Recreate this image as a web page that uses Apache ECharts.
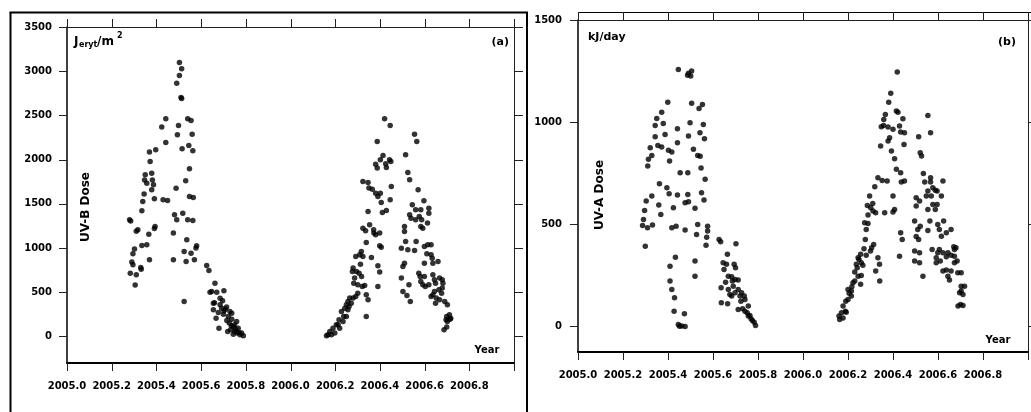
<!DOCTYPE html>
<html>
<head>
<meta charset="utf-8">
<script src="https://cdn.jsdelivr.net/npm/echarts@6/dist/echarts.min.js"></script>
<style>
html,body{margin:0;padding:0;background:#fff;}
#c{width:1031px;height:412px;}
</style>
</head>
<body>
<div id="c"></div>
<script>
// ---- tick values / labels ----
const yearMin = 2005.0, yearMax = 2007.0, yearStep = 0.2;
const yearTicks = [2005.0, 2005.2, 2005.4, 2005.6, 2005.8, 2006.0, 2006.2, 2006.4, 2006.6, 2006.8, 2007.0];
const uvbTicks = [0, 500, 1000, 1500, 2000, 2500, 3000, 3500];
const uvaTicks = [0, 500, 1000, 1500];

// ---- panel (a): UV-B dose (J_eryt/m2) ----
const uvbYear = [
2005.503,2005.513,2005.503,2005.491,2005.510,2005.513,2005.442,2005.424,2005.499,2005.540,
2005.555,2005.494,2005.560,2005.442,2005.397,2005.369,2005.515,2005.545,2005.563,2005.372,
2005.548,2005.350,2005.379,2005.347,2005.382,2005.357,2005.387,2005.379,2005.531,2005.488,
2005.345,2005.391,2005.430,2005.450,2005.548,2005.565,2005.339,2005.394,2005.391,2005.280,
2005.285,2005.317,2005.310,2005.335,2005.481,2005.491,2005.518,2005.540,2005.563,2005.476,
2005.366,2005.357,2005.335,2005.302,2005.295,2005.536,2005.580,2005.577,2005.524,2005.555,
2005.369,2005.476,2005.533,2005.570,2005.290,2005.295,2005.330,2005.332,2005.283,2005.310,
2005.305,2005.524,
2005.625,2005.635,2005.662,2005.647,2005.670,2005.702,2005.685,2005.696,2005.655,2005.677,
2005.667,2005.680,2005.714,2005.729,2005.722,2005.737,2005.726,2005.744,2005.719,2005.750,
2005.762,2005.774,2005.789,2005.744,2005.692,2005.702,2005.708,2005.655,2005.685,2005.737,
2005.759,2005.750,2005.766,2005.781,2005.732,2005.640,2005.660,2005.700,2005.715,2005.735,
2005.755,2005.770,
2006.421,2006.446,2006.388,2006.414,2006.381,2006.388,2006.426,2006.443,2006.402,2006.449,
2006.429,2006.324,2006.347,2006.351,2006.366,2006.381,2006.402,2006.391,2006.406,2006.446,
2006.451,2006.411,2006.429,2006.347,2006.324,2006.336,2006.372,2006.373,2006.381,2006.399,
2006.354,2006.399,2006.406,2006.339,2006.317,2006.310,2006.292,2006.324,2006.362,2006.313,
2006.280,2006.277,2006.295,2006.307,2006.318,2006.287,2006.283,2006.321,2006.332,2006.301,
2006.292,2006.339,2006.347,2006.339,2006.391,2006.399,2006.391,2006.265,2006.257,2006.250,
2006.243,2006.257,2006.228,2006.238,2006.250,2006.217,2006.205,2006.190,2006.176,2006.168,
2006.183,2006.198,2006.220,2006.235,2006.213,2006.161,2006.272,2006.262,2006.280,2006.301,
2006.515,2006.555,2006.565,2006.525,2006.533,2006.571,2006.597,2006.545,2006.560,2006.533,
2006.510,2006.510,2006.539,2006.560,2006.576,2006.583,2006.587,2006.619,2006.619,2006.613,
2006.583,2006.592,2006.515,2006.496,2006.525,2006.555,2006.562,2006.599,2006.614,2006.629,
2006.610,2006.629,2006.634,2006.599,2006.637,2006.510,2006.503,2006.574,2006.580,2006.599,
2006.637,2006.644,2006.660,2006.667,2006.679,2006.682,2006.649,2006.583,2006.592,2006.603,
2006.619,2006.530,2006.496,2006.644,2006.637,2006.629,2006.652,2006.649,2006.667,2006.664,
2006.679,2006.676,2006.503,2006.521,2006.536,2006.690,2006.702,2006.699,2006.711,2006.714,
2006.696,2006.699,2006.687,2006.717,2006.702
];
const uvbDose = [
3099,3027,2952,2865,2703,2690,2462,2368,2386,2462,
2443,2281,2288,2194,2111,2085,2122,2160,2100,1980,
1896,1828,1847,1771,1771,1734,1715,1659,1760,1677,
1610,1557,1546,1538,1584,1572,1527,1244,1221,1320,
1305,1206,1190,1421,1376,1320,1395,1320,1312,1169,
1157,1037,1029,988,935,1093,1025,1000,961,942,
867,867,848,867,841,811,780,760,716,697,
581,396,
803,746,603,509,501,516,433,403,302,271,
207,94,332,283,226,196,151,113,57,57,
38,19,8,26,320,290,309,377,358,264,
170,132,94,38,75,500,380,250,180,120,
80,45,
2462,2386,2205,2047,1949,1904,1953,1998,1998,1979,
1911,1753,1742,1678,1666,1621,1621,1583,1515,1546,
1697,1402,1425,1414,1225,1195,1206,1169,1150,1169,
1263,1025,1010,1063,961,924,905,905,893,818,
773,735,735,716,679,660,603,565,577,490,
452,471,415,226,799,728,565,434,396,358,
320,302,283,226,226,189,132,94,57,19,
19,38,94,170,132,8,377,339,434,584,
2055,2288,2205,1854,1772,1659,1534,1489,1433,1376,
1244,1188,1338,1320,1357,1433,1320,1451,1395,1282,
1244,1225,1074,999,980,973,1074,1018,1037,1037,
935,924,886,829,829,829,792,716,679,679,
697,641,848,660,641,603,603,622,584,565,
584,584,660,509,471,452,434,377,415,528,
547,490,509,464,396,396,358,226,245,196,
189,106,75,207,170
];

// ---- panel (b): UV-A dose (kJ/day) ----
const uvaYear = [
2005.446,2005.491,2005.501,2005.487,2005.505,2005.399,2005.505,2005.553,2005.538,2005.372,
2005.350,2005.379,2005.343,2005.498,2005.557,2005.442,2005.387,2005.343,2005.491,2005.542,
2005.562,2005.442,2005.355,2005.321,2005.372,2005.402,2005.417,2005.513,2005.328,2005.313,
2005.310,2005.407,2005.532,2005.543,2005.547,2005.454,2005.488,2005.565,2005.362,2005.395,
2005.405,2005.442,2005.488,2005.549,2005.560,2005.328,2005.359,2005.368,2005.424,2005.476,
2005.491,2005.520,2005.303,2005.296,2005.291,2005.287,2005.309,2005.331,2005.417,2005.436,
2005.476,2005.532,2005.576,2005.576,2005.527,2005.572,2005.569,2005.299,2005.433,2005.520,
2005.520,2005.409,2005.409,2005.417,2005.429,2005.427,2005.473,2005.446,2005.461,2005.476,
2005.451,
2005.627,2005.634,2005.664,2005.702,2005.645,2005.660,2005.694,2005.700,2005.649,2005.668,
2005.683,2005.698,2005.712,2005.636,2005.668,2005.690,2005.712,2005.727,2005.739,2005.742,
2005.637,2005.665,2005.724,2005.712,2005.732,2005.742,2005.752,2005.764,2005.769,2005.775,
2005.783,2005.789,2005.675,2005.686,2005.757,2005.683,2005.656,2005.698,2005.720,2005.757,
2006.419,2006.390,2006.381,2006.415,2006.422,2006.366,2006.444,2006.359,2006.348,2006.358,
2006.378,2006.400,2006.429,2006.434,2006.451,2006.449,2006.345,2006.385,2006.378,2006.393,
2006.407,2006.415,2006.434,2006.437,2006.451,2006.333,2006.352,2006.374,2006.319,2006.400,
2006.296,2006.310,2006.286,2006.301,2006.311,2006.289,2006.323,2006.363,2006.407,2006.400,
2006.274,2006.289,2006.281,2006.277,2006.314,2006.305,2006.300,2006.271,2006.281,2006.256,
2006.245,2006.259,2006.237,2006.266,2006.333,2006.340,2006.323,2006.341,2006.230,2006.245,
2006.259,2006.256,2006.222,2006.217,2006.205,2006.215,2006.200,2006.190,2006.178,2006.188,
2006.171,2006.192,2006.160,2006.178,2006.163,2006.434,2006.441,2006.429,2006.200,2006.230,
2006.241,2006.249,2006.215,
2006.555,2006.567,2006.514,2006.521,2006.527,2006.535,2006.567,2006.541,2006.567,2006.622,
2006.503,2006.518,2006.548,2006.555,2006.577,2006.588,2006.596,2006.570,2006.577,2006.596,
2006.615,2006.588,2006.555,2006.503,2006.496,2006.521,2006.564,2006.555,2006.510,2006.514,
2006.503,2006.574,2006.606,2006.599,2006.625,2006.606,2006.615,2006.637,2006.658,2006.599,
2006.622,2006.644,2006.637,2006.592,2006.658,2006.673,2006.670,2006.680,2006.673,2006.592,
2006.610,2006.496,2006.518,2006.496,2006.518,2006.533,2006.637,2006.622,2006.658,2006.644,
2006.651,2006.673,2006.685,2006.688,2006.703,2006.703,2006.718,2006.703,2006.711,2006.696,
2006.700,2006.689,2006.711
];
const uvaDose = [
1258,1239,1226,1230,1250,1098,1092,1087,1067,1049,
1018,994,984,997,989,968,940,929,932,948,
919,899,886,875,878,862,854,867,837,818,
785,810,837,833,775,752,752,720,699,679,
650,643,646,654,619,638,594,548,581,605,
610,578,614,568,524,494,483,496,483,491,
472,499,491,467,450,437,398,393,339,320,
246,295,222,181,140,75,62,10,2,0,
1,
426,415,353,405,312,304,304,287,279,246,
243,230,227,189,181,197,181,165,149,132,
116,111,124,83,87,75,67,54,38,29,
21,5,157,222,100,149,217,165,149,51,
1245,1141,1098,1054,1048,1038,1017,1013,978,984,
976,965,981,952,948,891,883,924,908,859,
821,769,752,707,712,728,715,712,684,638,
638,602,592,581,565,545,557,557,573,560,
508,504,475,426,401,385,369,380,348,353,
336,312,304,300,336,304,271,222,266,246,
250,206,214,194,162,149,132,124,100,75,
67,70,51,42,34,459,426,344,181,222,
287,328,173,
1033,948,929,850,834,749,728,707,707,712,
630,614,638,663,679,667,663,638,597,597,
638,573,573,589,516,491,516,470,475,426,
440,377,377,499,516,475,442,459,475,361,
361,361,341,336,348,377,390,385,344,312,
320,369,361,320,312,246,276,271,271,246,
227,312,320,263,263,197,197,173,157,165,
108,100,103
];

const pairs = (xs, ys) => xs.map((x, i) => [x, ys[i]]);

const labelFont = {color: '#000', fontFamily: 'DejaVu Sans', fontWeight: 'bold', fontSize: 10};
const frameDark = {color: '#000', width: 2};
const frameThin = {color: '#222', width: 1};
const tickCol = '#222';

function xAxes(grid, bottomMargin) {
  return [
    {type: 'value', gridIndex: grid, position: 'bottom', min: yearMin, max: yearMax, interval: yearStep,
     axisLine: {show: true, onZero: false, lineStyle: frameDark},
     axisTick: {show: false},
     axisLabel: Object.assign({margin: bottomMargin, showMaxLabel: false, showMinLabel: true,
       formatter: v => Number(v).toFixed(1)}, labelFont),
     splitLine: {show: false}},
    {type: 'value', gridIndex: grid, position: 'top', min: yearMin, max: yearMax, interval: yearStep,
     axisLine: {show: true, onZero: false, lineStyle: frameThin},
     axisTick: {show: false}, axisLabel: {show: false}, splitLine: {show: false}}
  ];
}
function yAxes(grid, min, max, ticks, margin) {
  return [
    {type: 'value', gridIndex: grid, position: 'left', min: min, max: max,
     axisLine: {show: true, onZero: false, lineStyle: {color: '#000', width: 1.5}},
     axisTick: {show: false},
     axisLabel: Object.assign({margin: margin, customValues: ticks, formatter: v => String(v)}, labelFont),
     splitLine: {show: false}},
    {type: 'value', gridIndex: grid, position: 'right', min: min, max: max,
     axisLine: {show: true, onZero: false, lineStyle: frameThin},
     axisTick: {show: false}, axisLabel: {show: false}, splitLine: {show: false}}
  ];
}

// tick marks drawn by custom series: positions come from the axes (api.coord) and the grid rect
function crisp(v) { return Math.round(v) + 0.5; }
function xTickSeries(xi, yi, yBase) {
  return {
    type: 'custom', xAxisIndex: xi, yAxisIndex: yi, silent: true, clip: false, z: 10,
    data: yearTicks.map(v => [v, yBase]),
    renderItem: function (params, api) {
      const cs = params.coordSys;
      const x = crisp(api.coord([api.value(0), api.value(1)])[0]);
      const b = cs.y + cs.height, t = cs.y;
      const st = {stroke: tickCol, lineWidth: 1};
      return {type: 'group', children: [
        {type: 'line', shape: {x1: x, y1: b, x2: x, y2: b + 8}, style: st},
        {type: 'line', shape: {x1: x, y1: t, x2: x, y2: t - 8}, style: st}
      ]};
    }
  };
}
function yTickSeries(xi, yi, ticks) {
  return {
    type: 'custom', xAxisIndex: xi, yAxisIndex: yi, silent: true, clip: false, z: 10,
    data: ticks.map(v => [yearMin, v]),
    renderItem: function (params, api) {
      const cs = params.coordSys;
      const y = crisp(api.coord([api.value(0), api.value(1)])[1]);
      const l = cs.x, r = cs.x + cs.width;
      const st = {stroke: tickCol, lineWidth: 1};
      return {type: 'group', children: [
        {type: 'line', shape: {x1: l - 8, y1: y, x2: l, y2: y}, style: st},
        {type: 'line', shape: {x1: r, y1: y, x2: r + 9, y2: y}, style: st}
      ]};
    }
  };
}

const txt = (x, y, text, size, extra) => Object.assign({
  type: 'text', x: x, y: y, silent: true,
  style: Object.assign({text: text, fill: '#000', font: 'bold ' + size + 'px "DejaVu Sans"',
    align: 'left', verticalAlign: 'middle'}, extra || {})
});
const ln = (x1, y1, x2, y2, w) => ({type: 'line', silent: true,
  shape: {x1: x1, y1: y1, x2: x2, y2: y2}, style: {stroke: '#000', lineWidth: w}});

const option = {
  backgroundColor: '#fff',
  animation: false,
  grid: [
    {left: 67, top: 27, width: 447, height: 336},
    {left: 578, top: 20, width: 450, height: 332}
  ],
  xAxis: xAxes(0, 18).concat(xAxes(1, 18)),
  yAxis: yAxes(0, -300, 3500, uvbTicks, 15).concat(yAxes(1, -125, 1500, uvaTicks, 16)),
  series: [
    {type: 'scatter', xAxisIndex: 0, yAxisIndex: 0, data: pairs(uvbYear, uvbDose),
     symbol: 'circle', symbolSize: 5.5, itemStyle: {color: '#000'}},
    {type: 'scatter', xAxisIndex: 2, yAxisIndex: 2, data: pairs(uvaYear, uvaDose),
     symbol: 'circle', symbolSize: 5.5, itemStyle: {color: '#000'}},
    xTickSeries(0, 0, 0),
    yTickSeries(0, 0, uvbTicks),
    xTickSeries(2, 2, 0),
    yTickSeries(2, 2, uvaTicks)
  ],
  graphic: [
    ln(10.5, 12.5, 10.5, 412, 2),
    ln(9.5, 12.5, 528, 12.5, 2),
    ln(527, 12.5, 527, 412, 2),
    ln(578, 12.5, 1031, 12.5, 1),
    txt(74, 42, 'J', 12),
    txt(79, 45, 'eryt', 8),
    txt(97, 42, '/m', 12),
    txt(117, 36, '2', 8),
    txt(509, 42, '(a)', 11, {align: 'right'}),
    txt(487, 350, 'Year', 10, {align: 'center'}),
    Object.assign(txt(86, 207, 'UV-B Dose', 12, {align: 'center'}), {rotation: Math.PI / 2}),
    txt(588, 37, 'kJ/day', 11),
    txt(1016, 42, '(b)', 11, {align: 'right'}),
    txt(998, 340, 'Year', 10, {align: 'center'}),
    Object.assign(txt(600, 195, 'UV-A Dose', 12, {align: 'center'}), {rotation: Math.PI / 2})
  ]
};

const chart = echarts.init(document.getElementById('c'), null, {renderer: 'canvas'});
chart.setOption(option);
</script>
</body>
</html>
